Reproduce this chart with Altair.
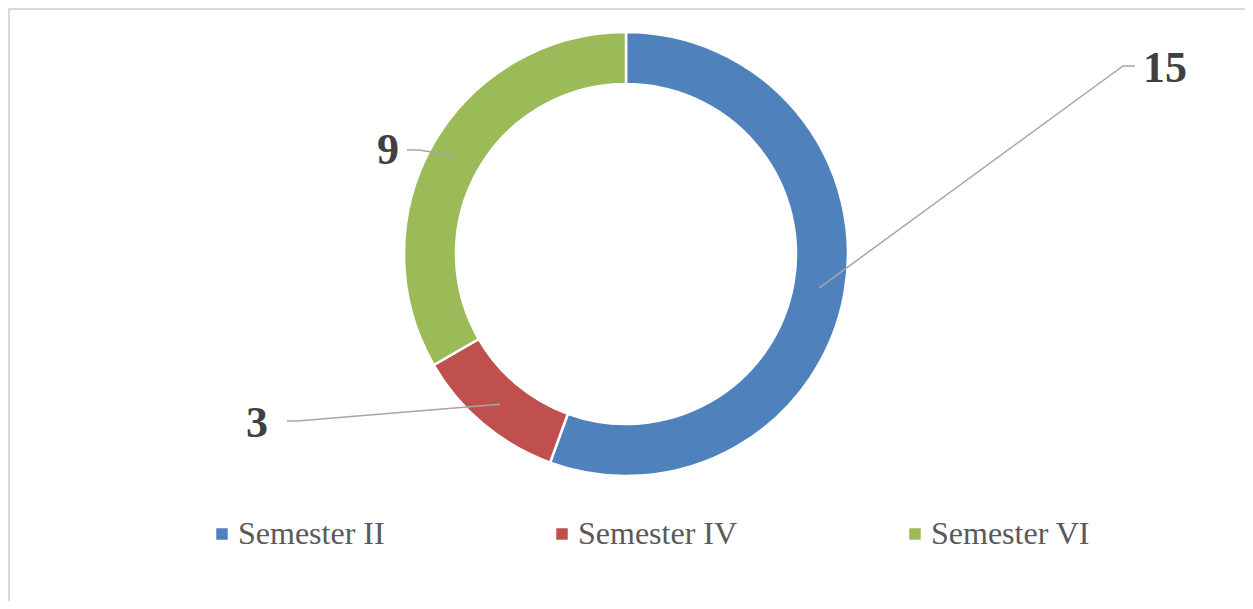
import altair as alt
import numpy as np
import pandas as pd

# ---- data ----
categories = ["Semester II", "Semester IV", "Semester VI"]
values = [15, 3, 9]
colors = ["#4F81BD", "#C0504D", "#9BBB59"]

# ---- layout (chart pixel coordinates) ----
W, H = 1237, 593
CX, CY = 618, 246
R_OUT, R_IN = 222, 170
# label text position (x centre, baseline) and leader-line elbow / end per category
label_pos = {
    "Semester II": dict(tx=1157, ty=74, ex=1115, ey=58, fx=1127, fy=58),
    "Semester IV": dict(tx=249, ty=429, ex=289, ey=413, fx=279, fy=413),
    "Semester VI": dict(tx=380, ty=156, ex=411, ey=142, fx=399, fy=142),
}

df = pd.DataFrame({"category": categories, "value": values, "idx": range(len(values))})

# anchors at slice centres (derived from the data)
total = sum(values)
cum = np.cumsum([0] + values)
rows_line, rows_text = [], []
r_mid = (R_OUT + R_IN) / 2
for i, c in enumerate(categories):
    mid = (cum[i] + cum[i + 1]) / 2 / total * 2 * np.pi
    ax, ay = CX + r_mid * np.sin(mid), CY - r_mid * np.cos(mid)
    p = label_pos[c]
    rows_line += [
        dict(category=c, o=0, x=ax, y=ay),
        dict(category=c, o=1, x=p["ex"], y=p["ey"]),
        dict(category=c, o=2, x=p["fx"], y=p["fy"]),
    ]
    rows_text.append(dict(category=c, value=values[i], x=p["tx"], y=p["ty"]))
lines_df = pd.DataFrame(rows_line)
text_df = pd.DataFrame(rows_text)

arc = alt.Chart(df).mark_arc(
    outerRadius=R_OUT, innerRadius=R_IN, stroke="white", strokeWidth=2.5
).encode(
    theta=alt.Theta("value:Q", stack=True),
    order=alt.Order("idx:Q"),
    x=alt.value(CX),
    y=alt.value(CY),
    color=alt.Color(
        "category:N",
        scale=alt.Scale(domain=categories, range=colors),
        legend=alt.Legend(
            title=None,
            orient="none",
            legendX=198,
            legendY=510,
            direction="horizontal",
            symbolType="square",
            symbolSize=132,
            symbolStrokeWidth=0,
            labelFont="Liberation Serif",
            labelFontSize=32,
            labelColor="#595959",
            labelOffset=0,
            columnPadding=161,
            padding=0,
        ),
    ),
)

leaders = alt.Chart(lines_df).mark_line(color="#A6A6A6", strokeWidth=1.5).encode(
    x=alt.X("x:Q", scale=None, axis=None),
    y=alt.Y("y:Q", scale=None, axis=None),
    detail="category:N",
    order="o:Q",
)

labels = alt.Chart(text_df).mark_text(
    font="Liberation Serif", fontSize=44, fontWeight="bold", color="#404040",
    align="center", baseline="alphabetic",
).encode(
    x=alt.X("x:Q", scale=None, axis=None),
    y=alt.Y("y:Q", scale=None, axis=None),
    text=alt.Text("value:Q"),
)

one = pd.DataFrame({"a": [0]})
border_top = alt.Chart(one).mark_rule(color="#D9D9D9", strokeWidth=2).encode(
    x=alt.value(0), x2=alt.value(W), y=alt.value(1)
)
border_left = alt.Chart(one).mark_rule(color="#D9D9D9", strokeWidth=2).encode(
    x=alt.value(1), y=alt.value(0), y2=alt.value(H)
)

chart = alt.layer(border_top, border_left, arc, leaders, labels).properties(
    width=W, height=H, autosize=alt.AutoSizeParams(type="none"), padding=0,
    background="white",
).configure_view(stroke=None)

chart.save("out.html", embed_options={"renderer": "svg", "actions": False})
